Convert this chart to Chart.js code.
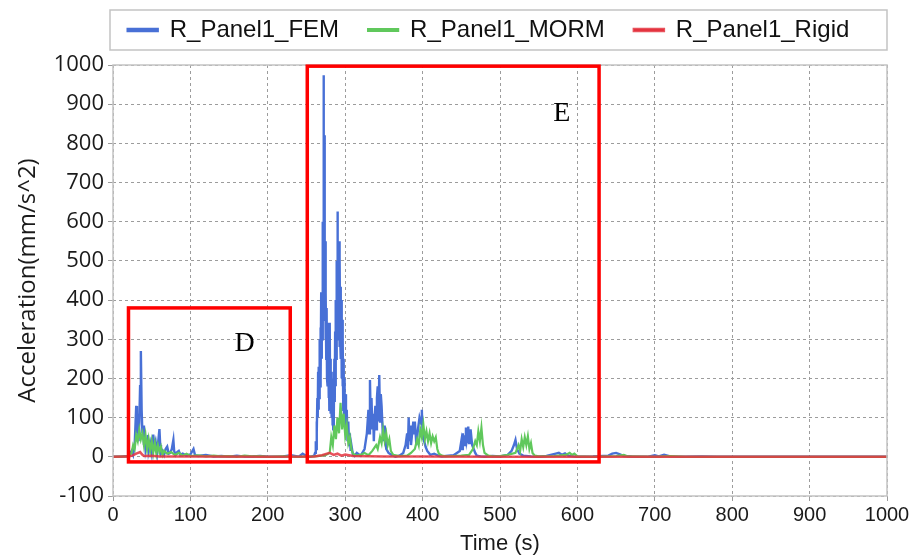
<!DOCTYPE html>
<html>
<head>
<meta charset="utf-8">
<title>Panel acceleration</title>
<script src="https://cdn.jsdelivr.net/npm/chart.js@4.4.1/dist/chart.umd.min.js"></script>
<style>
  body { margin: 0; background: #fff; }
</style>
</head>
<body>
<canvas id="accelChart" width="919" height="557"></canvas>
<script>
// tick values
const xTicks = [0, 100, 200, 300, 400, 500, 600, 700, 800, 900, 1000];
const yTicks = [-100, 0, 100, 200, 300, 400, 500, 600, 700, 800, 900, 1000];

// series labels
const seriesNames = ['R_Panel1_FEM', 'R_Panel1_MORM', 'R_Panel1_Rigid'];

// R_Panel1_FEM (time s, acceleration mm/s^2)
const femTime = [
    0,10,20,22,24,26,28,30,31,32, 33,34,35,36,37,38,39,40,41,42,
    44,45,46,48,50,52,53,55,57,59, 60,61,62,64,66,68,70,72,74,76,
    78,79,81,83,85,87,90,95,100,104, 106,110,120,130,140,150,160,170,180,190,
    200,210,220,230,240,245,250,255,
    260,261,262,262.5,263,263.5,264,264.5,265,265.5,
    266,266.5,267,267.5,268,268.5,269,269.5,270,270.5,
    271,271.5,272,272.5,273,273.5,274,274.5,275,275.5,
    276,276.5,277,277.5,278,278.5,279,279.5,280,280.5,
    281,281.5,282,282.5,283,283.5,284,284.5,285,285.5,
    286,286.5,287,287.5,288,288.5,289,289.5,290,290.5,
    291,291.5,292,292.5,293,293.5,294,294.5,295,295.5,
    296,296.5,297,297.5,298,298.5,299,299.5,300,301,
    302,303,304,305,306,307,308,310,
    312,315,320,325,328,330,331,332,333,334,
    335,336,337,338,339,340,341,342,343,344,
    345,346,347,349,351,353,356,360,365,370,
    375,378,380,381,382,383,384,385,386,387,
    388,389,390,392,394,396,398,399,400,402,
    404,406,410,415,420,425,430,440,448,450,
    451,452,453,454,455,456,457,458,459,460,
    461,462,464,466,468,470,475,480,490,500,
    510,515,518,520,522,525,530,540,550,560,
    572,576,580,584,588,595,600,620,640,645,
    650,655,660,670,690,700,705,712,720,740,
    760,780,800,850,900,950,1000
];
const femAcc = [
    0,0.5,2,8,15,5,30,130,60,110, 40,90,180,270,120,60,80,30,50,20,
    45,56,15,35,10,57,25,40,10,50, 71,30,8,15,5,20,26,8,10,20,
    43,15,5,12,15,5,8,3,6,20, 4,2,5,1,2,0.5,3,0.5,1,2,
    0.5,0.5,1,4,0.5,8,2,0,
    3,10,40,20,90,60,150,100,217,120,
    230,150,300,180,330,200,420,250,380,300,
    600,350,974,500,821,380,550,300,418,250,
    380,200,342,180,320,150,280,120,342,150,
    250,110,217,100,180,80,162,70,200,100,
    250,140,320,180,400,250,500,300,626,350,
    450,300,550,280,511,300,434,250,400,200,
    350,180,300,120,250,100,200,80,160,60,
    120,40,90,30,60,15,30,5,
    2,10,3,20,60,120,60,196,90,150,
    70,110,40,100,130,70,150,180,90,209,
    90,160,130,40,80,20,10,5,0,3,
    10,30,60,20,100,40,80,30,50,70,
    90,60,90,30,70,100,85,120,60,40,
    25,15,5,8,3,1,2,4,15,40,
    20,60,35,55,30,75,40,50,77,35,
    45,70,30,20,10,3,1,0,2,1,
    5,15,30,43,20,8,3,1,0,2,
    8,10,5,9,3,1,0,1,3,8,
    10,6,2,1,0,4,1,5,1,0,
    1,0,0.5,0,0.5,0,0
];

// R_Panel1_MORM
const mormTime = [
    0,20,24,26,28,30,32,34,36,38, 40,42,44,46,48,50,52,54,56,58,
    60,62,64,66,70,75,80,85,90,95, 100,110,120,130,140,150,160,170,180,190,
    200,220,240,260,270,275,280,282,284,286, 288,290,292,294,296,298,300,302,304,306,
    308,310,315,320,325,330,335,340,342,345, 347,349,351,353,355,357,359,362,370,380,
    385,390,393,395,397,399,401,403,405,407, 409,411,413,415,417,419,421,425,430,440,
    450,460,465,468,470,472,474,476,478,480, 485,490,500,510,520,524,526,528,530,532,
    534,536,538,540,542,545,550,570,585,590, 593,596,600,620,650,660,665,700,720,740,
    800,1000
];
const mormAcc = [
    0,1,10,30,20,55,40,69,45,60, 30,56,20,45,15,40,10,35,8,30,
    12,25,5,15,8,12,5,10,3,8, 2,4,1,3,1,2,0,3,1,2,
    0,1,0,1,3,5,10,50,30,80, 45,100,60,138,70,110,55,80,35,50,
    20,8,3,5,10,4,15,30,20,50, 35,69,40,60,30,45,15,5,2,3,
    10,20,45,30,70,50,82,45,65,40, 60,35,52,40,50,20,8,3,1,2,
    3,5,20,40,30,65,40,74,30,10, 3,1,2,5,10,30,15,45,25,50,
    30,52,20,35,10,3,1,2,5,10, 5,8,1,0,2,5,1,0,2,0,
    0,0
];

// R_Panel1_Rigid
const rigidTime = [0,20,25,30,35,38,40,50,60,100,200,260,270,280,285,290,295,300,310,350,400,500,1000];
const rigidAcc  = [0,0.5,3,8,12,5,2,3,1,0.5,0,1,4,10,5,8,3,6,2,1,0.5,0,0];

// highlighted regions (data units)
const regionNames = ['D', 'E'];
const regionXFrom = [20, 251];
const regionXTo   = [229, 628];
const regionYFrom = [-13, -13];
const regionYTo   = [380, 997];
const regionLabelX = [170, 580];
const regionLabelY = [290, 877];

function toPoints(t, v) {
    return t.map((x, i) => ({ x: x, y: v[i] }));
}

const tickFont = { family: "'Open Sans', 'Noto Sans', sans-serif", size: 22 };
const narrowFont = "'Liberation Sans Narrow', 'Liberation Sans', Arial, sans-serif";

// fixed legend height, and shift it over the plot
const legendGap = {
    id: 'legendGap',
    beforeInit(chart) {
        const fit = chart.legend.fit;
        chart.legend.fit = function () {
            fit.bind(chart.legend)();
            this.height = 57;
        };
    },
    afterLayout(chart) {
        const lg = chart.legend;
        lg.left += 45;
        lg.right += 45;
        lg.top -= 19;
        lg.bottom -= 19;
    }
};

// frame, legend box and region annotations
const framePlugin = {
    id: 'frame',
    afterDraw(chart) {
        const ctx = chart.ctx;
        const a = chart.chartArea;
        const xs = chart.scales.x;
        const ys = chart.scales.y;
        ctx.save();
        ctx.strokeStyle = '#c3c3c3';
        ctx.lineWidth = 1.5;
        ctx.strokeRect(a.left - 3, a.top - 55, a.right - a.left + 3, 40);
        ctx.strokeRect(a.left, a.top, a.right - a.left, a.bottom - a.top);

        ctx.strokeStyle = '#ff0000';
        ctx.lineWidth = 3.5;
        ctx.fillStyle = '#000';
        ctx.font = '28px "Liberation Serif", "DejaVu Serif", serif';
        ctx.textAlign = 'center';
        ctx.textBaseline = 'middle';
        regionNames.forEach((name, i) => {
            const x0 = xs.getPixelForValue(regionXFrom[i]);
            const x1 = xs.getPixelForValue(regionXTo[i]);
            const y0 = ys.getPixelForValue(regionYTo[i]);
            const y1 = ys.getPixelForValue(regionYFrom[i]);
            ctx.strokeRect(x0, y0, x1 - x0, y1 - y0);
            ctx.fillText(name, xs.getPixelForValue(regionLabelX[i]), ys.getPixelForValue(regionLabelY[i]));
        });
        ctx.restore();
    }
};

const ctx = document.getElementById('accelChart').getContext('2d');
new Chart(ctx, {
    type: 'line',
    data: {
        datasets: [
            {
                label: seriesNames[0],
                data: toPoints(femTime, femAcc),
                borderColor: 'rgb(72, 112, 214)',
                backgroundColor: 'rgb(72, 112, 214)',
                borderWidth: 2.4,
                order: 3
            },
            {
                label: seriesNames[1],
                data: toPoints(mormTime, mormAcc),
                borderColor: 'rgb(96, 200, 92)',
                backgroundColor: 'rgb(96, 200, 92)',
                borderWidth: 2.2,
                order: 2
            },
            {
                label: seriesNames[2],
                data: toPoints(rigidTime, rigidAcc),
                borderColor: 'rgba(228, 52, 64, 0.85)',
                backgroundColor: 'rgb(228, 52, 64)',
                borderWidth: 2.5,
                order: 1
            }
        ]
    },
    options: {
        responsive: false,
        devicePixelRatio: 1,
        animation: false,
        elements: { point: { radius: 0 }, line: { tension: 0 } },
        layout: { padding: { left: 0, right: 32, top: 8, bottom: 0 } },
        plugins: {
            tooltip: { enabled: false },
            legend: {
                position: 'top',
                labels: {
                    boxWidth: 30,
                    boxHeight: 2,
                    padding: 29,
                    color: '#111',
                    font: { family: "'Liberation Sans', Arial, sans-serif", size: 24 },
                    sort: (a, b) => a.datasetIndex - b.datasetIndex
                }
            }
        },
        scales: {
            x: {
                type: 'linear',
                min: 0,
                max: 1000,
                afterBuildTicks: s => { s.ticks = xTicks.map(v => ({ value: v })); },
                afterFit: s => { s.height = 61; },
                ticks: { color: '#1a1a1a', font: { family: narrowFont, size: 20 }, maxRotation: 0, padding: 2, callback: v => String(v) },
                grid: { color: '#9c9c9c', tickLength: 5, lineWidth: 1 },
                border: { display: false, dash: [3, 3] },
                title: { display: true, text: 'Time (s)', color: '#1a1a1a', font: { family: narrowFont, size: 22 }, padding: 0 }
            },
            y: {
                min: -100,
                max: 1000,
                afterBuildTicks: s => { s.ticks = yTicks.map(v => ({ value: v })); },
                afterFit: s => { s.width = 113; },
                ticks: { color: '#1a1a1a', font: tickFont, padding: 4, callback: v => String(v) },
                grid: { color: '#9c9c9c', tickLength: 5, lineWidth: 1 },
                border: { display: false, dash: [3, 3] },
                title: { display: true, text: 'Acceleration(mm/s^2)', color: '#1a1a1a', font: { family: "'Open Sans', 'Noto Sans', sans-serif", size: 24 }, padding: { top: 14, bottom: 0 } }
            }
        }
    },
    plugins: [legendGap, framePlugin]
});
</script>
</body>
</html>
